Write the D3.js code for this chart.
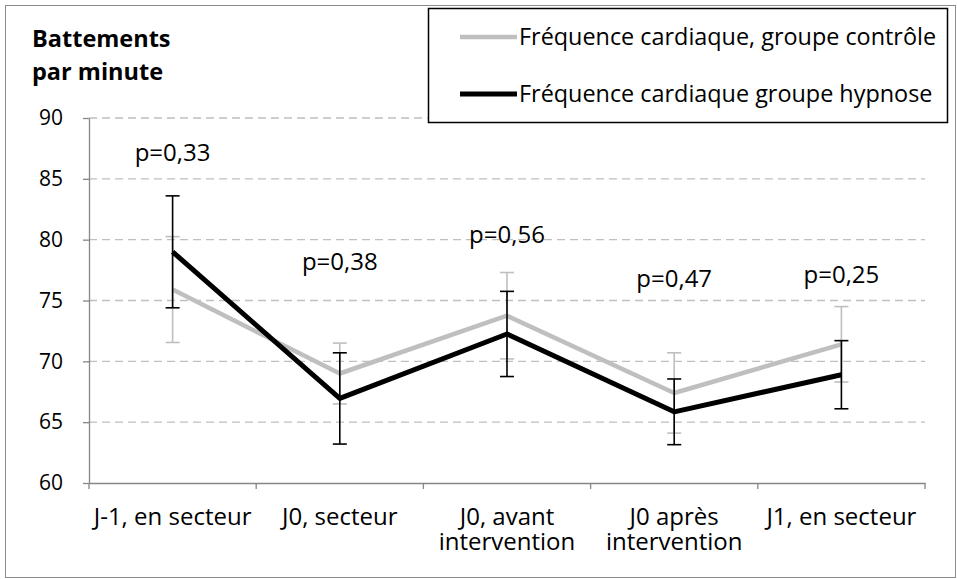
<!DOCTYPE html>
<html>
<head>
<meta charset="utf-8">
<script src="https://cdn.jsdelivr.net/npm/d3@7"></script>
<style>
  body { margin: 0; background: #fff; }
  svg { font-family: "Open Sans", sans-serif; }
</style>
</head>
<body>
<svg width="957" height="579"></svg>
<script>
var categories = ["J-1, en secteur", "J0, secteur", "J0, avant\nintervention", "J0 après\nintervention", "J1, en secteur"];
var controle = [75.9, 69.0, 73.75, 67.4, 71.4];
var controleErr = [4.35, 2.5, 3.55, 3.3, 3.1];
var hypnose = [79.0, 66.95, 72.25, 65.85, 68.9];
var hypnoseErr = [4.6, 3.75, 3.5, 2.7, 2.8];
var pValues = ["p=0,33", "p=0,38", "p=0,56", "p=0,47", "p=0,25"];
var pLabelY = [86.5, 77.5, 79.7, 76.1, 76.4];
var yTicks = [60, 65, 70, 75, 80, 85, 90];
var seriesNames = ["Fréquence cardiaque, groupe contrôle", "Fréquence cardiaque groupe hypnose"];

var svg = d3.select("svg"),
    plotLeft = 89, plotRight = 925, plotTop = 118, plotBottom = 483;

var x = d3.scaleBand().domain(categories).range([plotLeft, plotRight]);
var y = d3.scaleLinear().domain([60, 90]).range([plotBottom, plotTop]);

// outer frame
svg.append("rect")
    .attr("x", 5.5).attr("y", 5.5)
    .attr("width", 950).attr("height", 572)
    .attr("fill", "none").attr("stroke", "#8c8c8c").attr("stroke-width", 1);

// grid
svg.append("g").selectAll("line").data(yTicks.slice(1)).enter().append("line")
    .attr("x1", plotLeft).attr("x2", plotRight)
    .attr("y1", function(d) { return y(d); }).attr("y2", function(d) { return y(d); })
    .attr("stroke", "#bfbfbf").attr("stroke-width", 1.3)
    .attr("stroke-dasharray", "8,5");

// y axis
var yAxis = svg.append("g")
    .attr("transform", "translate(" + plotLeft + ",0)")
    .call(d3.axisLeft(y).tickValues(yTicks).tickSize(6).tickPadding(20).tickSizeOuter(0));
yAxis.select(".domain").attr("stroke", "#868686").attr("stroke-width", 1.3);
yAxis.selectAll("line").attr("stroke", "#868686").attr("stroke-width", 1.3);
yAxis.selectAll("text").attr("font-size", 21).attr("fill", "#000")
    .attr("font-family", "Open Sans");

// x axis
var xAxis = svg.append("g")
    .attr("transform", "translate(0," + plotBottom + ")")
    .call(d3.axisBottom(x).tickSize(0).tickFormat("").tickSizeOuter(0));
xAxis.select(".domain").attr("stroke", "#868686").attr("stroke-width", 1.3);

var bounds = categories.map(function(c) { return x(c); }).concat([plotRight]);
svg.append("g").selectAll("line").data(bounds).enter().append("line")
    .attr("x1", function(d) { return d; }).attr("x2", function(d) { return d; })
    .attr("y1", plotBottom).attr("y2", plotBottom + 6)
    .attr("stroke", "#868686").attr("stroke-width", 1.3);

var labels = svg.append("g").selectAll("text").data(categories).enter().append("text")
    .attr("text-anchor", "middle")
    .attr("font-size", 24)
    .attr("y", 525);
labels.each(function(d) {
  var t = d3.select(this);
  d.split("\n").forEach(function(line, i) {
    t.append("tspan")
        .attr("x", x(d) + x.bandwidth() / 2)
        .attr("dy", i ? 25 : 0)
        .text(line);
  });
});

// series
var cx = function(i) { return x(categories[i]) + x.bandwidth() / 2; };

function drawSeries(values, errs, color, width) {
  var g = svg.append("g");
  var eb = g.selectAll("g.err").data(values).enter().append("g");
  eb.append("line")
      .attr("x1", function(d, i) { return cx(i); }).attr("x2", function(d, i) { return cx(i); })
      .attr("y1", function(d, i) { return y(d + errs[i]); })
      .attr("y2", function(d, i) { return y(d - errs[i]); });
  eb.append("line")
      .attr("x1", function(d, i) { return cx(i) - 7; }).attr("x2", function(d, i) { return cx(i) + 7; })
      .attr("y1", function(d, i) { return y(d + errs[i]); })
      .attr("y2", function(d, i) { return y(d + errs[i]); });
  eb.append("line")
      .attr("x1", function(d, i) { return cx(i) - 7; }).attr("x2", function(d, i) { return cx(i) + 7; })
      .attr("y1", function(d, i) { return y(d - errs[i]); })
      .attr("y2", function(d, i) { return y(d - errs[i]); });
  eb.selectAll("line").attr("stroke", color).attr("stroke-width", 1.6);

  g.append("path")
      .datum(values)
      .attr("fill", "none")
      .attr("stroke", color)
      .attr("stroke-width", width)
      .attr("stroke-linejoin", "round")
      .attr("d", d3.line().x(function(d, i) { return cx(i); }).y(function(d) { return y(d); }));
}

drawSeries(controle, controleErr, "#bfbfbf", 4.5);
drawSeries(hypnose, hypnoseErr, "#000", 5);

// p values
svg.append("g").selectAll("text").data(pValues).enter().append("text")
    .attr("x", function(d, i) { return cx(i); })
    .attr("y", function(d, i) { return y(pLabelY[i]); })
    .attr("text-anchor", "middle")
    .attr("font-size", 24)
    .text(function(d) { return d; });

// title
var title = svg.append("text")
    .attr("font-size", 23.5).attr("font-weight", "bold");
title.append("tspan").attr("x", 32).attr("y", 47).text("Battements");
title.append("tspan").attr("x", 32).attr("y", 80).text("par minute");

// legend
var legend = svg.append("g");
legend.append("rect")
    .attr("x", 428.5).attr("y", 8.5)
    .attr("width", 519).attr("height", 114)
    .attr("fill", "#fff").attr("stroke", "#000").attr("stroke-width", 1.5);
var lg = legend.selectAll("g.item").data(seriesNames).enter().append("g")
    .attr("transform", function(d, i) { return "translate(0," + (i ? 94 : 37) + ")"; });
lg.append("line")
    .attr("x1", 460).attr("x2", 517)
    .attr("stroke", function(d, i) { return i ? "#000" : "#bfbfbf"; })
    .attr("stroke-width", function(d, i) { return i ? 5 : 4.5; });
lg.append("text")
    .attr("x", 519).attr("y", 8)
    .attr("font-size", 23.4)
    .text(function(d) { return d; });
</script>
</body>
</html>
